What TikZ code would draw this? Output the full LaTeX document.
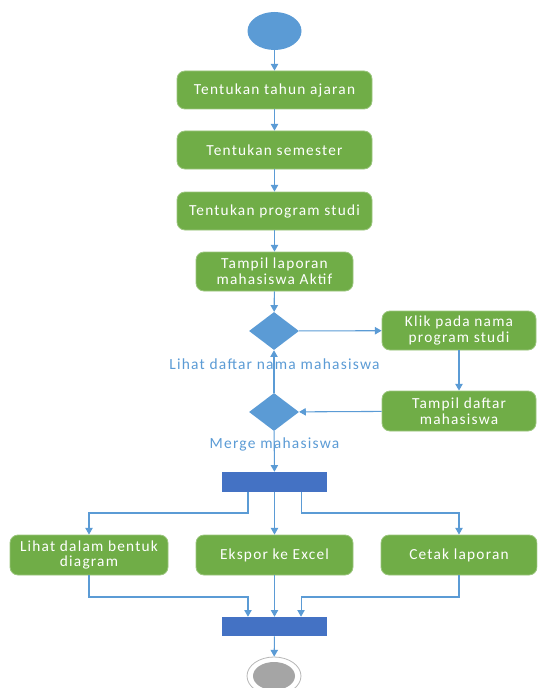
\documentclass[tikz,border=0pt]{standalone}
\usepackage{fontspec}
\usetikzlibrary{shapes.geometric,arrows.meta}
\newfontfamily\lbl{Carlito}[LetterSpace=8]
\definecolor{gbox}{HTML}{70AD47}
\definecolor{lblue}{HTML}{5B9BD5}
\definecolor{dblue}{HTML}{4472C4}
\definecolor{endgray}{HTML}{A5A5A5}
\tikzset{
  act/.style={rectangle, rounded corners=6pt, fill=gbox, draw=gbox!70!white, line width=0.6pt, text=white,
     font=\lbl\fontsize{11.5}{11.8}\selectfont, align=center, inner sep=0pt},
  dec/.style={diamond, fill=lblue, draw=none, inner sep=0pt, minimum width={50*0.75pt}, minimum height={38*0.75pt}},
  bar/.style={rectangle, fill=dblue, draw=none, inner sep=0pt, minimum width={105*0.75pt}, minimum height={20*0.75pt}},
  arr/.style={draw=lblue, line width=0.8pt, -{Triangle[length=5pt,width=5.5pt]}},
  guard/.style={text=lblue, font=\lbl\fontsize{11.6}{12}\selectfont, inner sep=0pt},
}
\begin{document}
\begin{tikzpicture}[x=0.75pt,y=-0.75pt]
\useasboundingbox (0,0) rectangle (537,688);
\clip (0,0) rectangle (537,688);
% nodes
\node[ellipse, fill=lblue, draw=none, minimum width={54*0.75pt}, minimum height={38*0.75pt}, inner sep=0pt] (start) at (274.5,31) {};
\node[act, minimum width={195*0.75pt}, minimum height={38*0.75pt}] (b1) at (274.5,90) {Tentukan tahun ajaran};
\node[act, minimum width={195*0.75pt}, minimum height={38*0.75pt}] (b2) at (274.5,150) {Tentukan semester};
\node[act, minimum width={195*0.75pt}, minimum height={38*0.75pt}] (b3) at (274.5,211) {Tentukan program studi};
\node[act, minimum width={157*0.75pt}, minimum height={39*0.75pt}] (b4) at (274.5,271.5) {Tampil laporan\\mahasiswa Aktif};
\node[dec] (d1) at (274,331) {};
\node[act, minimum width={154*0.75pt}, minimum height={39*0.75pt}] (k) at (459,330.5) {Klik pada nama\\program studi};
\node[act, minimum width={154*0.75pt}, minimum height={40*0.75pt}] (t) at (459,411) {Tampil daftar\\mahasiswa};
\node[dec] (d2) at (274,412) {};
\node[bar] (bar1) at (274.5,482) {};
\node[act, minimum width={158*0.75pt}, minimum height={40*0.75pt}] (l) at (89,555) {Lihat dalam bentuk\\diagram};
\node[act, minimum width={157*0.75pt}, minimum height={40*0.75pt}] (e) at (274.5,555) {Ekspor ke Excel};
\node[act, minimum width={156*0.75pt}, minimum height={40*0.75pt}] (c) at (459,555) {Cetak laporan};
\node[bar, minimum height={19*0.75pt}] (bar2) at (274.5,626.5) {};
\node[ellipse, fill=white, draw=endgray!80, line width=0.6pt, minimum width={54*0.75pt}, minimum height={38*0.75pt}, inner sep=0pt] (end) at (274,676) {};
\node[ellipse, fill=endgray, draw=none, minimum width={42*0.75pt}, minimum height={28*0.75pt}, inner sep=0pt] (endin) at (274,676) {};
% guard labels
\node[guard] (g1) at (274.5,364) {Lihat daftar nama mahasiswa};
\node[guard] (g2) at (274.5,444) {Merge mahasiswa};
% helper coordinates
\coordinate (fy) at (0,513);
\coordinate (jy) at (0,597);
% connectors
\draw[arr] (start) -- (b1);
\draw[arr] (b1) -- (b2);
\draw[arr] (b2) -- (b3);
\draw[arr] (b3) -- (b4);
\draw[arr] (b4) -- (d1);
\draw[arr] (d1) -- (k);
\draw[arr] (k) -- (t);
\draw[arr] (t) -- (d2);
\draw[arr] (d2) -- (d1);
\draw[arr] (d2) -- (bar1);
\draw[arr] ([xshift=-19.9pt]bar1.south) -- ([xshift=-19.9pt]bar1.south |- fy) -| (l.north);
\draw[arr] (bar1) -- (e);
\draw[arr] ([xshift=19.9pt]bar1.south) -- ([xshift=19.9pt]bar1.south |- fy) -| (c.north);
\draw[arr] (l.south) -- (l.south |- jy) -| ([xshift=-19.9pt]bar2.north);
\draw[arr] (e) -- (bar2);
\draw[arr] (c.south) -- (c.south |- jy) -| ([xshift=19.9pt]bar2.north);
\draw[arr] (bar2) -- (end);
\end{tikzpicture}
\end{document}
